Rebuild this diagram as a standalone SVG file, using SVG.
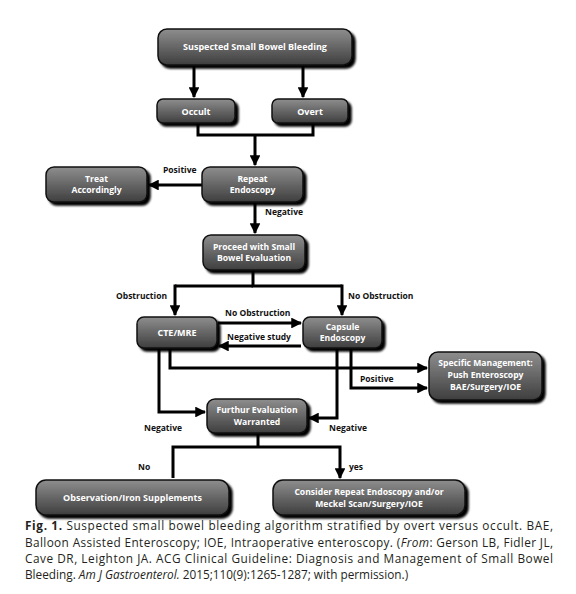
<svg xmlns="http://www.w3.org/2000/svg" width="576" height="594" viewBox="0 0 576 594">
<defs>
<linearGradient id="g" x1="0" y1="0" x2="0" y2="1">
<stop offset="0" stop-color="#8e8e8e"/>
<stop offset="0.45" stop-color="#6a6a6a"/>
<stop offset="1" stop-color="#3e3e3e"/>
</linearGradient>
<filter id="sh" x="-10%" y="-10%" width="130%" height="150%">
<feGaussianBlur in="SourceAlpha" stdDeviation="1.2"/>
<feOffset dx="2.5" dy="2.5" result="o"/>
<feMerge><feMergeNode in="o"/><feMergeNode in="SourceGraphic"/></feMerge>
</filter>
<marker id="ah" viewBox="0 0 10 10" refX="9" refY="5" markerWidth="3.6" markerHeight="3.6" orient="auto" markerUnits="strokeWidth">
<path d="M0,0 L10,5 L0,10 z" fill="#000"/>
</marker>
</defs>
<style>
.box{fill:url(#g);stroke:#111;stroke-width:1.5;filter:url(#sh)}
.bt{font-family:"Open Sans","Liberation Sans",sans-serif;font-weight:bold;font-size:9px;fill:#fff;text-anchor:middle}
.bt2{font-family:"Open Sans","Liberation Sans",sans-serif;font-weight:bold;font-size:8.6px;fill:#fff;text-anchor:middle}
.lb{font-family:"Open Sans","Liberation Sans",sans-serif;font-weight:bold;font-size:8.5px;fill:#111}
.c{fill:none;stroke:#000;stroke-width:3}
.a{marker-end:url(#ah)}
.cap{font-family:"Open Sans","Liberation Sans",sans-serif;font-size:11.8px;fill:#231f20}
</style>
<rect width="576" height="594" fill="#fff"/>
<g id="connectors">
<path class="c a" d="M194,65 V97"/>
<path class="c a" d="M303,65 V97"/>
<path class="c" d="M198,123 V135 H313 V123"/>
<path class="c a" d="M255,135 V165"/>
<path class="c a" d="M202,185 H149"/>
<path class="c a" d="M255,202 V233"/>
<path class="c" d="M253,270 V286 H342"/>
<path class="c" d="M253,286 H175"/>
<path class="c a" d="M175,284.5 V315"/>
<path class="c a" d="M342,284.5 V315"/>
<path class="c a" d="M218,323 H301"/>
<path class="c a" d="M301,346 H219"/>
<path class="c a" d="M170,348 V368 H427"/>
<path class="c a" d="M159,348 V412 H205"/>
<path class="c a" d="M351,348 V388 H427"/>
<path class="c a" d="M337,348 V418 H309"/>
<path class="c" d="M258,433 V447"/>
<path class="c a" d="M173,478 V447 H340 V478"/>
</g>
<g id="labels">
<text class="lb" x="163" y="173">Positive</text>
<text class="lb" x="265" y="215">Negative</text>
<text class="lb" x="167" y="299" text-anchor="end">Obstruction</text>
<text class="lb" x="348" y="299">No Obstruction</text>
<text class="lb" x="225" y="316">No Obstruction</text>
<text class="lb" x="227" y="340">Negative study</text>
<text class="lb" x="360" y="382">Positive</text>
<text class="lb" x="144" y="431">Negative</text>
<text class="lb" x="329" y="431">Negative</text>
<text class="lb" x="138" y="470">No</text>
<text class="lb" x="349" y="470">yes</text>
</g>
<g id="n-start"><rect class="box" x="158" y="29" width="194" height="36" rx="9"/><text class="bt" x="255" y="50">Suspected Small Bowel Bleeding</text></g>
<g id="n-occult"><rect class="box" x="157" y="99" width="78" height="24" rx="6"/><text class="bt" x="196" y="114.5">Occult</text></g>
<g id="n-overt"><rect class="box" x="272" y="99" width="76" height="24" rx="6"/><text class="bt" x="310" y="114.5">Overt</text></g>
<g id="n-repeat"><rect class="box" x="202" y="167" width="101" height="35" rx="8"/><text class="bt2" x="252.5" y="181.5">Repeat</text><text class="bt2" x="252.5" y="193">Endoscopy</text></g>
<g id="n-treat"><rect class="box" x="46" y="167" width="101" height="35" rx="8"/><text class="bt2" x="96.5" y="181.5">Treat</text><text class="bt2" x="96.5" y="193">Accordingly</text></g>
<g id="n-proceed"><rect class="box" x="203" y="235" width="102" height="35" rx="8"/><text class="bt2" x="254" y="249.5">Proceed with Small</text><text class="bt2" x="254" y="261">Bowel Evaluation</text></g>
<g id="n-cte"><rect class="box" x="137" y="317" width="80" height="31" rx="7"/><text class="bt" x="177" y="336">CTE/MRE</text></g>
<g id="n-capsule"><rect class="box" x="303" y="317" width="79" height="31" rx="7"/><text class="bt2" x="342.5" y="329.5">Capsule</text><text class="bt2" x="342.5" y="341">Endoscopy</text></g>
<g id="n-specific"><rect class="box" x="429" y="352" width="113" height="48" rx="9"/><text class="bt2" x="485.5" y="366">Specific Management:</text><text class="bt2" x="485.5" y="377.5">Push Enteroscopy</text><text class="bt2" x="485.5" y="390">BAE/Surgery/IOE</text></g>
<g id="n-further"><rect class="box" x="207" y="399" width="100" height="34" rx="8"/><text class="bt2" x="257" y="413">Furthur Evaluation</text><text class="bt2" x="257" y="424.5">Warranted</text></g>
<g id="n-obs"><rect class="box" x="36" y="480" width="193" height="35" rx="10"/><text class="bt" x="132.5" y="500.5">Observation/Iron Supplements</text></g>
<g id="n-consider"><rect class="box" x="273" y="480" width="192" height="35" rx="10"/><text class="bt2" x="369" y="494.5">Consider Repeat Endoscopy and/or</text><text class="bt2" x="369" y="506.5">Meckel Scan/Surgery/IOE</text></g>
<g id="caption">
<text class="cap" x="25" y="530" textLength="528" lengthAdjust="spacing"><tspan font-weight="bold">Fig. 1.</tspan> Suspected small bowel bleeding algorithm stratified by overt versus occult. BAE,</text>
<text class="cap" x="25" y="547" textLength="528" lengthAdjust="spacing">Balloon Assisted Enteroscopy; IOE, Intraoperative enteroscopy. (<tspan font-style="italic">From</tspan>: Gerson LB, Fidler JL,</text>
<text class="cap" x="25" y="563" textLength="528" lengthAdjust="spacing">Cave DR, Leighton JA. ACG Clinical Guideline: Diagnosis and Management of Small Bowel</text>
<text class="cap" x="25" y="579">Bleeding. <tspan font-style="italic">Am J Gastroenterol.</tspan> 2015;110(9):1265-1287; with permission.)</text>
</g>
</svg>
